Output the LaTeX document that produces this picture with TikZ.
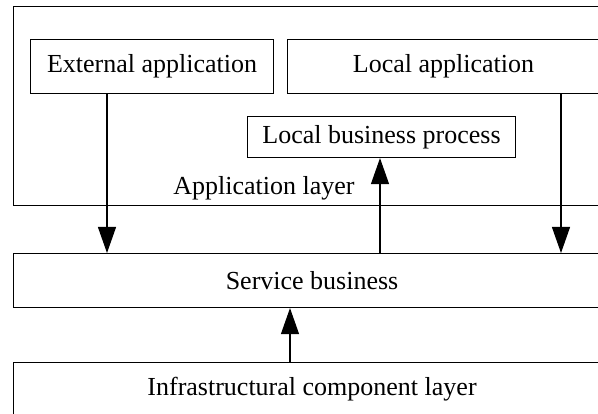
\documentclass[tikz,border=0pt]{standalone}
\usepackage{fontspec}
\setmainfont{Liberation Serif}
\usetikzlibrary{arrows.meta}
\begin{document}
\begin{tikzpicture}[x=1pt,y=-1pt,
  box/.style={draw,line width=1.1pt,inner sep=0pt,anchor=north west,font=\fontsize{26}{30}\selectfont},
  lbl/.style={inner sep=0pt,font=\fontsize{26}{30}\selectfont},
  arr/.style={line width=1.1pt,-{Triangle[length=26pt,width=18pt]}}]
\useasboundingbox (0,0) rectangle (598,414);
\clip (0,0) rectangle (598,414);
\node[box,minimum width=597pt,minimum height=199pt] (app) at (13,6) {};
\node[lbl,anchor=base] (applbl) at (264,195) {Application layer};
\node[box,minimum width=243pt,minimum height=54pt] (ext) at (30,39) {External application};
\node[box,minimum width=312pt,minimum height=54pt] (loc) at (287,39) {Local application};
\node[box,minimum width=268pt,minimum height=41pt] (lbp) at (247,116) {Local business process};
\node[box,minimum width=597pt,minimum height=54pt] (svc) at (13,253) {Service business};
\node[box,minimum width=597pt,minimum height=53pt] (inf) at (13,362) {Infrastructural component layer};
\coordinate (xa) at (107,0);
\coordinate (xb) at (561,0);
\coordinate (xc) at (380,0);
\coordinate (xd) at (290,0);
\draw[arr] (ext.south -| xa) -- (svc.north -| xa);
\draw[arr] (loc.south -| xb) -- (svc.north -| xb);
\draw[arr] (svc.north -| xc) -- (lbp.south -| xc);
\draw[arr] (inf.north -| xd) -- (svc.south -| xd);
\end{tikzpicture}
\end{document}
